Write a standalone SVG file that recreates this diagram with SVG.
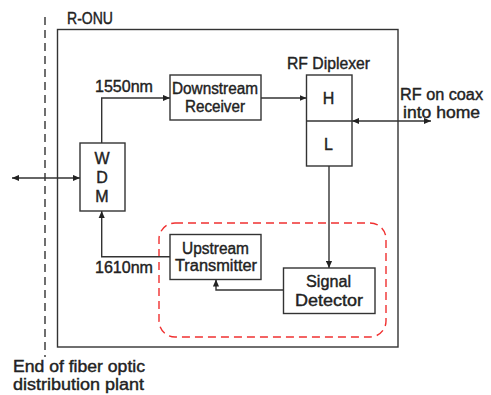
<svg xmlns="http://www.w3.org/2000/svg" width="491" height="395" viewBox="0 0 491 395">
<defs>
<marker id="ah" viewBox="0 0 8 8" refX="8" refY="4" markerWidth="7" markerHeight="7" markerUnits="userSpaceOnUse" orient="auto-start-reverse">
<path d="M0,0.5 L8,4 L0,7.5 Z" fill="#222"/>
</marker>
<style>
.box{fill:#fff;stroke:#333;stroke-width:1.4}
.ln{fill:none;stroke:#333;stroke-width:1.4}
text{font-family:"Liberation Sans",Arial,sans-serif;font-size:16px;fill:#222;stroke:#222;stroke-width:0.4}
.c{text-anchor:middle}
</style>
</defs>
<rect width="491" height="395" fill="#fff"/>
<line x1="45" y1="17" x2="45" y2="357" stroke="#222" stroke-width="1.3" stroke-dasharray="8,5"/>
<g id="r-onu">
<rect x="57.5" y="29.5" width="340.5" height="317.5" fill="none" stroke="#333" stroke-width="1.4"/>
<text x="67" y="24" textLength="46" lengthAdjust="spacingAndGlyphs">R-ONU</text>
</g>
<g id="upstream-group">
<rect x="159" y="223" width="227" height="114" rx="16" ry="16" fill="none" stroke="#f03030" stroke-width="1.4" stroke-dasharray="8,5"/>
</g>
<g id="connectors">
<line class="ln" x1="12" y1="178" x2="80" y2="178" marker-start="url(#ah)" marker-end="url(#ah)"/>
<polyline class="ln" points="101.7,143 101.7,98 170,98" marker-end="url(#ah)"/>
<line class="ln" x1="261" y1="98" x2="306.5" y2="98" marker-end="url(#ah)"/>
<line class="ln" x1="352" y1="121" x2="431" y2="121" marker-start="url(#ah)" marker-end="url(#ah)"/>
<line class="ln" x1="329" y1="166" x2="329" y2="268" marker-end="url(#ah)"/>
<polyline class="ln" points="283,290 216,290 216,279.5" marker-end="url(#ah)"/>
<polyline class="ln" points="170,256.7 101.7,256.7 101.7,211" marker-end="url(#ah)"/>
<text x="95" y="92" textLength="58" lengthAdjust="spacingAndGlyphs">1550nm</text>
<text x="95" y="273" textLength="58" lengthAdjust="spacingAndGlyphs">1610nm</text>
<text x="400" y="100" textLength="83" lengthAdjust="spacingAndGlyphs">RF on coax</text>
<text x="403" y="118" textLength="77" lengthAdjust="spacingAndGlyphs">into home</text>
</g>
<g id="wdm">
<rect class="box" x="80" y="143" width="45" height="68"/>
<text class="c" x="102" y="163.5">W</text>
<text class="c" x="102" y="183">D</text>
<text class="c" x="102" y="201.5">M</text>
</g>
<g id="downstream-receiver">
<rect class="box" x="170" y="75" width="91" height="45"/>
<text x="172" y="94" textLength="86" lengthAdjust="spacingAndGlyphs">Downstream</text>
<text x="185" y="111.5" textLength="60" lengthAdjust="spacingAndGlyphs">Receiver</text>
</g>
<g id="rf-diplexer">
<rect class="box" x="306.5" y="75" width="45.5" height="91"/>
<line class="ln" x1="306.5" y1="121" x2="352" y2="121"/>
<text x="287" y="69" textLength="83" lengthAdjust="spacingAndGlyphs">RF Diplexer</text>
<text class="c" x="328.5" y="103.5">H</text>
<text class="c" x="328.5" y="149.5">L</text>
</g>
<g id="upstream-transmitter">
<rect class="box" x="170" y="234.5" width="91" height="45"/>
<text x="182" y="253.5" textLength="67" lengthAdjust="spacingAndGlyphs">Upstream</text>
<text x="175" y="270.5" textLength="82" lengthAdjust="spacingAndGlyphs">Transmitter</text>
</g>
<g id="signal-detector">
<rect class="box" x="283.5" y="268" width="91.5" height="45.5"/>
<text x="306" y="287" textLength="45" lengthAdjust="spacingAndGlyphs">Signal</text>
<text x="295" y="305.5" textLength="68" lengthAdjust="spacingAndGlyphs">Detector</text>
</g>
<g id="fiber-end-label">
<text x="13" y="372" textLength="132" lengthAdjust="spacingAndGlyphs">End of fiber optic</text>
<text x="13" y="389.5" textLength="131" lengthAdjust="spacingAndGlyphs">distribution plant</text>
</g>
</svg>
